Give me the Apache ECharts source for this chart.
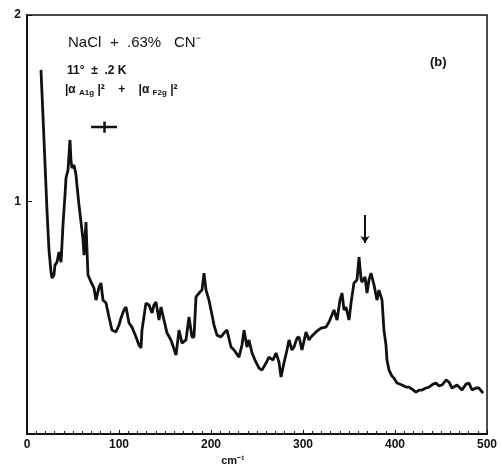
<!DOCTYPE html>
<html>
<head>
<meta charset="utf-8">
<script src="https://cdn.jsdelivr.net/npm/echarts@6/dist/echarts.min.js"></script>
<style>
  html, body { margin: 0; padding: 0; background: #fff; }
  #chart { width: 502px; height: 472px; }
</style>
</head>
<body>
<div id="chart"></div>
<script>
// Raman spectrum, NaCl + .63% CN-, intensity vs. wavenumber (cm-1)
const wavenumber = [
  15.2, 18.5, 21.7, 23.9, 26.1, 27.2, 29.3, 30.4, 32.6, 34.8, 37.0, 38.0, 39.1, 40.2, 41.3,
  42.4, 44.6, 46.7, 47.8, 48.9, 51.1, 53.3, 54.3, 56.5, 58.7, 60.9, 62.0, 63.0, 64.1, 65.2,
  66.3, 69.6, 72.8, 75.0, 78.3, 80.4, 82.6, 85.9, 89.1, 92.4, 96.7, 100.0, 102.2, 105.4, 107.6,
  110.9, 114.1, 118.5, 121.7, 123.9, 125.0, 129.3, 132.6, 135.9, 138.0, 140.2, 143.5, 145.7, 148.9,
  152.2, 156.5, 162.0, 165.2, 168.5, 172.8, 176.1, 179.3, 181.5, 183.7, 187.0, 190.2, 192.4, 194.6,
  197.8, 201.1, 203.3, 206.5, 210.9, 214.1, 217.4, 221.7, 225.0, 230.4, 233.7, 235.9, 239.1, 241.3,
  244.6, 247.8, 252.2, 255.4, 259.8, 263.0, 267.4, 270.7, 273.9, 276.1, 279.3, 282.6, 284.8, 288.0,
  290.2, 293.5, 295.7, 298.9, 303.3, 306.5, 308.7, 314.1, 319.6, 325.0, 328.3, 330.4, 333.7, 337.0,
  340.2, 342.4, 344.6, 346.7, 350.0, 352.2, 355.4, 358.7, 360.9, 363.0, 364.1, 367.4, 369.6, 371.7,
  373.9, 377.2, 380.4, 382.6, 385.9, 388.0, 390.2, 391.3, 393.5, 396.7, 398.9, 402.2, 407.6, 412.0,
  415.2, 418.5, 422.8, 426.1, 429.3, 433.7, 437.0, 441.3, 444.6, 447.8, 451.1, 455.4, 458.7, 462.0,
  464.1, 467.4, 469.6, 472.8, 477.2, 480.4, 483.7, 488.0, 491.3, 495.7
];
const intensity = [
  1.705, 1.329, 0.953, 0.738, 0.620, 0.588, 0.604, 0.657, 0.673, 0.727, 0.673, 0.765, 0.872, 0.953, 1.033,
  1.125, 1.168, 1.329, 1.221, 1.178, 1.194, 1.141, 1.087, 0.980, 0.888, 0.792, 0.711, 0.792, 0.888, 0.738,
  0.604, 0.566, 0.534, 0.469, 0.539, 0.561, 0.469, 0.453, 0.378, 0.308, 0.298, 0.335, 0.373, 0.416, 0.432,
  0.346, 0.324, 0.271, 0.228, 0.212, 0.308, 0.453, 0.443, 0.400, 0.443, 0.459, 0.362, 0.432, 0.362,
  0.292, 0.255, 0.174, 0.308, 0.238, 0.255, 0.378, 0.271, 0.271, 0.486, 0.507, 0.523, 0.614, 0.523,
  0.469, 0.389, 0.335, 0.281, 0.271, 0.292, 0.308, 0.217, 0.201, 0.163, 0.228, 0.308, 0.217, 0.255,
  0.185, 0.147, 0.104, 0.093, 0.131, 0.163, 0.147, 0.185, 0.136, 0.056, 0.131, 0.201, 0.255, 0.201,
  0.217, 0.265, 0.271, 0.201, 0.298, 0.255, 0.271, 0.298, 0.319, 0.324, 0.351, 0.346, 0.416, 0.362,
  0.469, 0.507, 0.416, 0.432, 0.362, 0.453, 0.561, 0.577, 0.700, 0.588, 0.566, 0.593, 0.507, 0.577,
  0.614, 0.550, 0.469, 0.523, 0.469, 0.308, 0.228, 0.147, 0.093, 0.061, 0.050, 0.024, 0.013, 0.002,
  0.002, -0.009, -0.025, -0.014, -0.014, -0.003, 0.002, 0.018, 0.024, 0.008, 0.013, 0.040, 0.029, -0.003,
  -0.003, 0.013, 0.002, -0.014, 0.018, 0.024, -0.014, -0.003, -0.003, -0.030
];

// Tick labels
const xTickLabels = [0, 100, 200, 300, 400, 500];
const yTickLabels = [1, 2];

// Spectral resolution bar (cm-1) and its level
const resolutionX = [69.6, 97.8];
const resolutionY = 1.398;
// Arrow marking the feature near 367 cm-1
const arrowX = 367.4;
const arrowY = [0.926, 0.776];

const chart = echarts.init(document.getElementById('chart'), null, { renderer: 'canvas' });

const ink = '#111';
const labelFont = { color: ink, fontFamily: 'Liberation Sans', fontWeight: 'bold', fontSize: 12 };
const resMid = (resolutionX[0] + resolutionX[1]) / 2;

chart.setOption({
  backgroundColor: '#fff',
  animation: false,
  grid: { left: 27, right: 15, top: 15, bottom: 38, show: true, borderColor: ink, borderWidth: 1.5 },
  xAxis: {
    type: 'value', min: 0, max: 500, interval: 100,
    name: 'cm\u207B\u00B9', nameLocation: 'middle', nameGap: 16,
    nameTextStyle: Object.assign({}, labelFont, { fontSize: 11, padding: [0, 48, 0, 0] }),
    axisLine: { show: true, onZero: false, lineStyle: { color: ink, width: 2 } },
    axisTick: { show: true, inside: true, length: 4, lineStyle: { color: ink } },
    minorTick: { show: true, splitNumber: 10, length: 3, lineStyle: { color: ink } },
    axisLabel: Object.assign({ margin: 5, customValues: xTickLabels }, labelFont),
    splitLine: { show: false }
  },
  yAxis: {
    type: 'value', min: -0.25, max: 2, interval: 0.25,
    axisLine: { show: true, onZero: false, lineStyle: { color: ink, width: 2 } },
    axisTick: { show: true, inside: true, length: 5, customValues: yTickLabels, lineStyle: { color: ink } },
    axisLabel: Object.assign({ margin: 6, customValues: yTickLabels }, labelFont),
    splitLine: { show: false }
  },
  series: [
    {
      type: 'line',
      data: wavenumber.map((w, i) => [w, intensity[i]]),
      showSymbol: false,
      lineStyle: { color: ink, width: 2.8 },
      markLine: {
        silent: true,
        symbol: ['none', 'arrow'],
        symbolSize: 7,
        label: { show: false },
        lineStyle: { color: ink, width: 2, type: 'solid' },
        data: [[{ coord: [arrowX, arrowY[0]] }, { coord: [arrowX, arrowY[1]] }]]
      }
    },
    {
      type: 'line',
      data: [[resolutionX[0], resolutionY], [resMid, resolutionY], [resolutionX[1], resolutionY]],
      showSymbol: false,
      lineStyle: { color: ink, width: 2.5 },
      markLine: {
        silent: true,
        symbol: 'none',
        label: { show: false },
        lineStyle: { color: ink, width: 2.5, type: 'solid' },
        data: [[{ coord: [resMid, resolutionY + 0.03] }, { coord: [resMid, resolutionY - 0.03] }]]
      }
    }
  ],
  graphic: [
    { type: 'text', left: 68, top: 35,
      style: { text: 'NaCl', fill: ink, font: '15px "Liberation Sans"' } },
    { type: 'text', left: 110, top: 35,
      style: { text: '+', fill: ink, font: '15px "Liberation Sans"' } },
    { type: 'text', left: 127, top: 35,
      style: { text: '.63%', fill: ink, font: '15px "Liberation Sans"' } },
    { type: 'text', left: 174, top: 35,
      style: { text: 'CN\u207B', fill: ink, font: '15px "Liberation Sans"' } },
    { type: 'text', left: 67, top: 65,
      style: { text: '11\u00B0  \u00B1  .2 K', fill: ink, font: 'bold 12px "Liberation Sans"' } },
    { type: 'text', left: 65, top: 84,
      style: {
        text: '|\u03B1 {s|A1g} |\u00B2    +    |\u03B1 {s|F2g} |\u00B2',
        fill: ink, font: 'bold 12px "Liberation Sans"',
        rich: { s: { fontSize: 8, fontWeight: 'bold', fontFamily: 'Liberation Sans', fill: ink, padding: [6, 0, 0, 0] } }
      } },
    { type: 'text', left: 430, top: 56,
      style: { text: '(b)', fill: ink, font: 'bold 13px "Liberation Sans"' } }
  ]
});
</script>
</body>
</html>
